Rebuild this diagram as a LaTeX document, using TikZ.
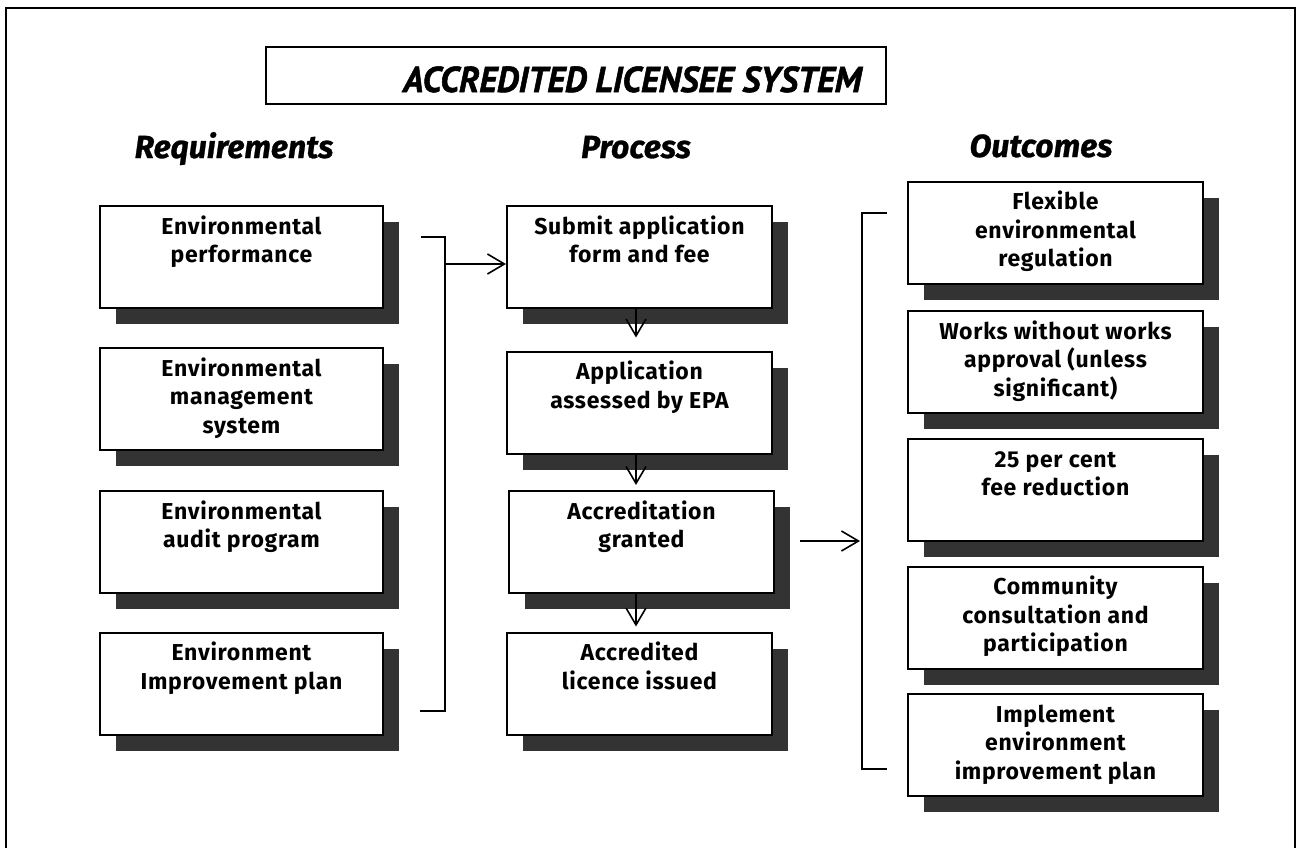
\documentclass[tikz,border=0pt]{standalone}
\usepackage{fontspec}
\setmainfont{Fira Sans}[LetterSpace=3]
\newfontfamily\hdfont{Fira Sans}[FakeBold=0.8]
\newfontfamily\ttlfont{PT Sans}[FakeStretch=0.97,FakeBold=1.5]
\usetikzlibrary{arrows.meta,shadows}
\tikzset{
  box/.style={draw=black, line width=2pt, fill=white, inner sep=0pt,
    drop shadow={shadow xshift=16pt, shadow yshift=-16pt, fill=black!80, opacity=1}},
  conn/.style={draw=black, line width=1.6pt},
  arr/.style={conn, -{Straight Barb[length=17pt, width=20pt, line width=1.6pt]}},
  hdr/.style={inner sep=0pt, anchor=base, font=\hdfont\bfseries\itshape\fontsize{32}{36}\selectfont},
}
\newcommand{\bxt}[3]{\parbox[c][102pt][t]{#1pt}{\centering\fontsize{23}{28.5}\selectfont\bfseries\rule{0pt}{28pt}#3}}
\begin{document}
\begin{tikzpicture}[x=1pt,y=-1pt]
\useasboundingbox (0,0) rectangle (1296,847);
% frame
\draw[line width=2pt] (6,850) -- (6,8) -- (1295,8) -- (1295,850);
% title
\node[draw=black, line width=2pt, minimum width=620pt, minimum height=57pt, inner sep=0pt] (title) at (576,75.5) {};
\node[inner sep=0pt, anchor=base west, font=\ttlfont\bfseries\itshape\fontsize{36}{40}\selectfont] (titletext) at (403,92) {ACCREDITED LICENSEE SYSTEM};
% headers
\node[hdr] (hreq) at (234,158) {Requirements};
\node[hdr] (hpro) at (636,158) {Process};
\node[hdr] (hout) at (1041,157) {Outcomes};
% requirements
\node[box] (r1) at (241.5,257) {\bxt{283}{}{Environmental\\performance}};
\node[box] (r2) at (241.5,399) {\bxt{283}{}{Environmental\\management\\system}};
\node[box] (r3) at (241.5,542) {\bxt{283}{}{Environmental\\audit program}};
\node[box] (r4) at (241.5,683.5) {\bxt{283}{}{Environment\\Improvement plan}};
% process
\node[box] (p1) at (639.5,257) {\bxt{265}{}{Submit application\\form and fee}};
\node[box] (p2) at (639.5,402.5) {\bxt{265}{}{Application\\assessed by EPA}};
\node[box] (p3) at (641.5,542) {\bxt{265}{}{Accreditation\\granted}};
\node[box] (p4) at (639.5,683.5) {\bxt{265}{}{Accredited\\licence issued}};
% outcomes
\node[box] (o1) at (1055.5,232.5) {\bxt{295}{}{Flexible\\environmental\\regulation}};
\node[box] (o2) at (1055.5,362) {\bxt{295}{}{Works without works\\approval (unless\\significant)}};
\node[box] (o3) at (1055.5,490) {\bxt{295}{}{25 per cent\\fee reduction}};
\node[box] (o4) at (1055.5,617.5) {\bxt{295}{}{Community\\consultation and\\participation}};
\node[box] (o5) at (1055.5,745) {\bxt{295}{}{Implement\\environment\\improvement plan}};
% brackets
\coordinate (lbt) at (421,237);
\coordinate (lbb) at (420,711);
\coordinate (lba) at (445,264);
\draw[conn] (lbt) -- (445,237) -- (445,711) -- (lbb);
\draw[arr] (lba) -- (lba -| p1.west);
\coordinate (rbt) at (887,213);
\coordinate (rbb) at (887,769);
\coordinate (rba) at (860,541);
\coordinate (p3out) at (800,541);
\draw[conn] (rbt) -- (862,213) -- (862,769) -- (rbb);
\draw[arr] (p3out) -- (rba);
% process arrows
\draw[arr, shorten >=13pt] ([xshift=-3.5pt]p1.south) -- ([xshift=-3.5pt]p1.south |- p2.north);
\draw[arr, shorten >=5pt] ([xshift=-3.5pt]p2.south) -- ([xshift=-3.5pt]p2.south |- p3.north);
\draw[arr, shorten >=5pt] ([xshift=-5.5pt]p3.south) -- ([xshift=-5.5pt]p3.south |- p4.north);
\end{tikzpicture}
\end{document}
